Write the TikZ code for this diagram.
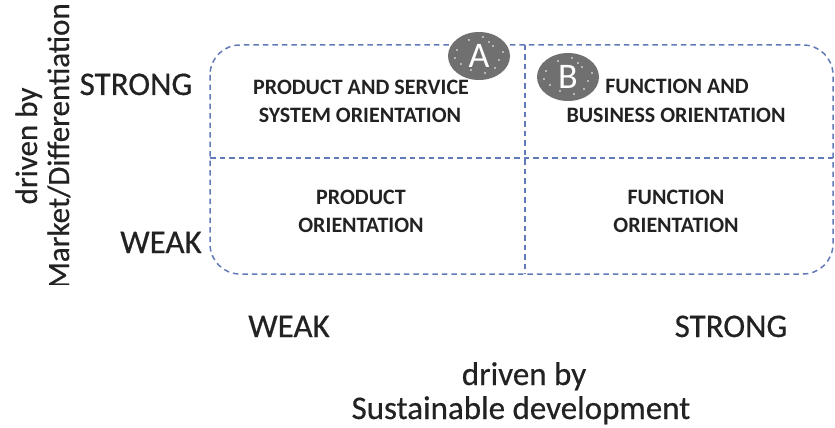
\documentclass[tikz,border=0pt]{standalone}
\usepackage{fontspec}
\setmainfont{Carlito}
\newfontfamily\axisfont{Carlito}[FakeBold=0.5]
\usetikzlibrary{shapes.geometric,calc}
\definecolor{dashblue}{RGB}{98,122,184}
\definecolor{badgegray}{RGB}{112,112,112}
\definecolor{inkgray}{RGB}{34,34,34}
\begin{document}
\begin{tikzpicture}[x=1pt,y=-1pt,
  gridline/.style={draw=dashblue, dash pattern=on 5.5pt off 4pt, line width=1.5pt},
  quad/.style={font=\bfseries\fontsize{22}{29}\selectfont, align=center, text=inkgray, inner sep=0pt},
  axis/.style={font=\axisfont\fontsize{33}{38}\selectfont, text=inkgray, inner sep=0pt, anchor=base},
  badge/.style={ellipse, fill=badgegray, minimum width=62pt, minimum height=48pt, inner sep=0pt,
    font=\fontsize{36}{36}\selectfont, text=white}]
\useasboundingbox (0,0) rectangle (835,428);
% frame and dividers
\draw[gridline, rounded corners=30pt] (210,45) rectangle (833,274);
\coordinate (vt) at (525,45);
\coordinate (vb) at (525,274);
\coordinate (hl) at (210,158);
\coordinate (hr) at (833,158);
\draw[gridline] (vt) -- (vb);
\draw[gridline] (hl) -- (hr);
% quadrant texts
\node[quad, anchor=base] (ps1) at (361,95) {PRODUCT AND SERVICE};
\node[quad, anchor=base] (ps2) at (360,122) {SYSTEM ORIENTATION};
\node[quad, anchor=base] (fb1) at (677,93) {FUNCTION AND};
\node[quad, anchor=base] (fb2) at (676,122) {BUSINESS ORIENTATION};
\node[quad, anchor=base] (po1) at (361,204) {PRODUCT};
\node[quad, anchor=base] (po2) at (361,232) {ORIENTATION};
\node[quad, anchor=base] (fo1) at (676,204) {FUNCTION};
\node[quad, anchor=base] (fo2) at (676,232) {ORIENTATION};
% badges
\node[badge] (bA) at (479,56) {A};
\node[badge] (bB) at (568,77) {B};
\foreach \b in {bA,bB}{
  \foreach \dx/\dy in {-22/-6,-18/8,-10/-16,-8/14,4/-19,6/17,14/-10,20/4,16/12,-24/2,24/-4,10/-14}{
    \fill[white] ($(\b.center)+(\dx,\dy)$) circle (0.9pt);
  }
}
% axis labels
\node[axis] (ys) at (136,95) {STRONG};
\node[axis] (yw) at (161,253) {WEAK};
\node[axis] (xw) at (289,337) {WEAK};
\node[axis] (xs) at (731,337) {STRONG};
\node[axis] (xl1) at (524,385) {driven by};
\node[axis] (xl2) at (521,419) {Sustainable development};
\begin{scope}
\clip (0,0) rectangle (90,284);
\node[axis, rotate=90, font=\axisfont\fontsize{31}{36}\selectfont] (yl1) at (37,146) {driven by};
\node[axis, rotate=90, font=\axisfont\fontsize{31}{36}\selectfont] (yl2) at (69,146) {Market/Differentiation};
\end{scope}
\end{tikzpicture}
\end{document}
